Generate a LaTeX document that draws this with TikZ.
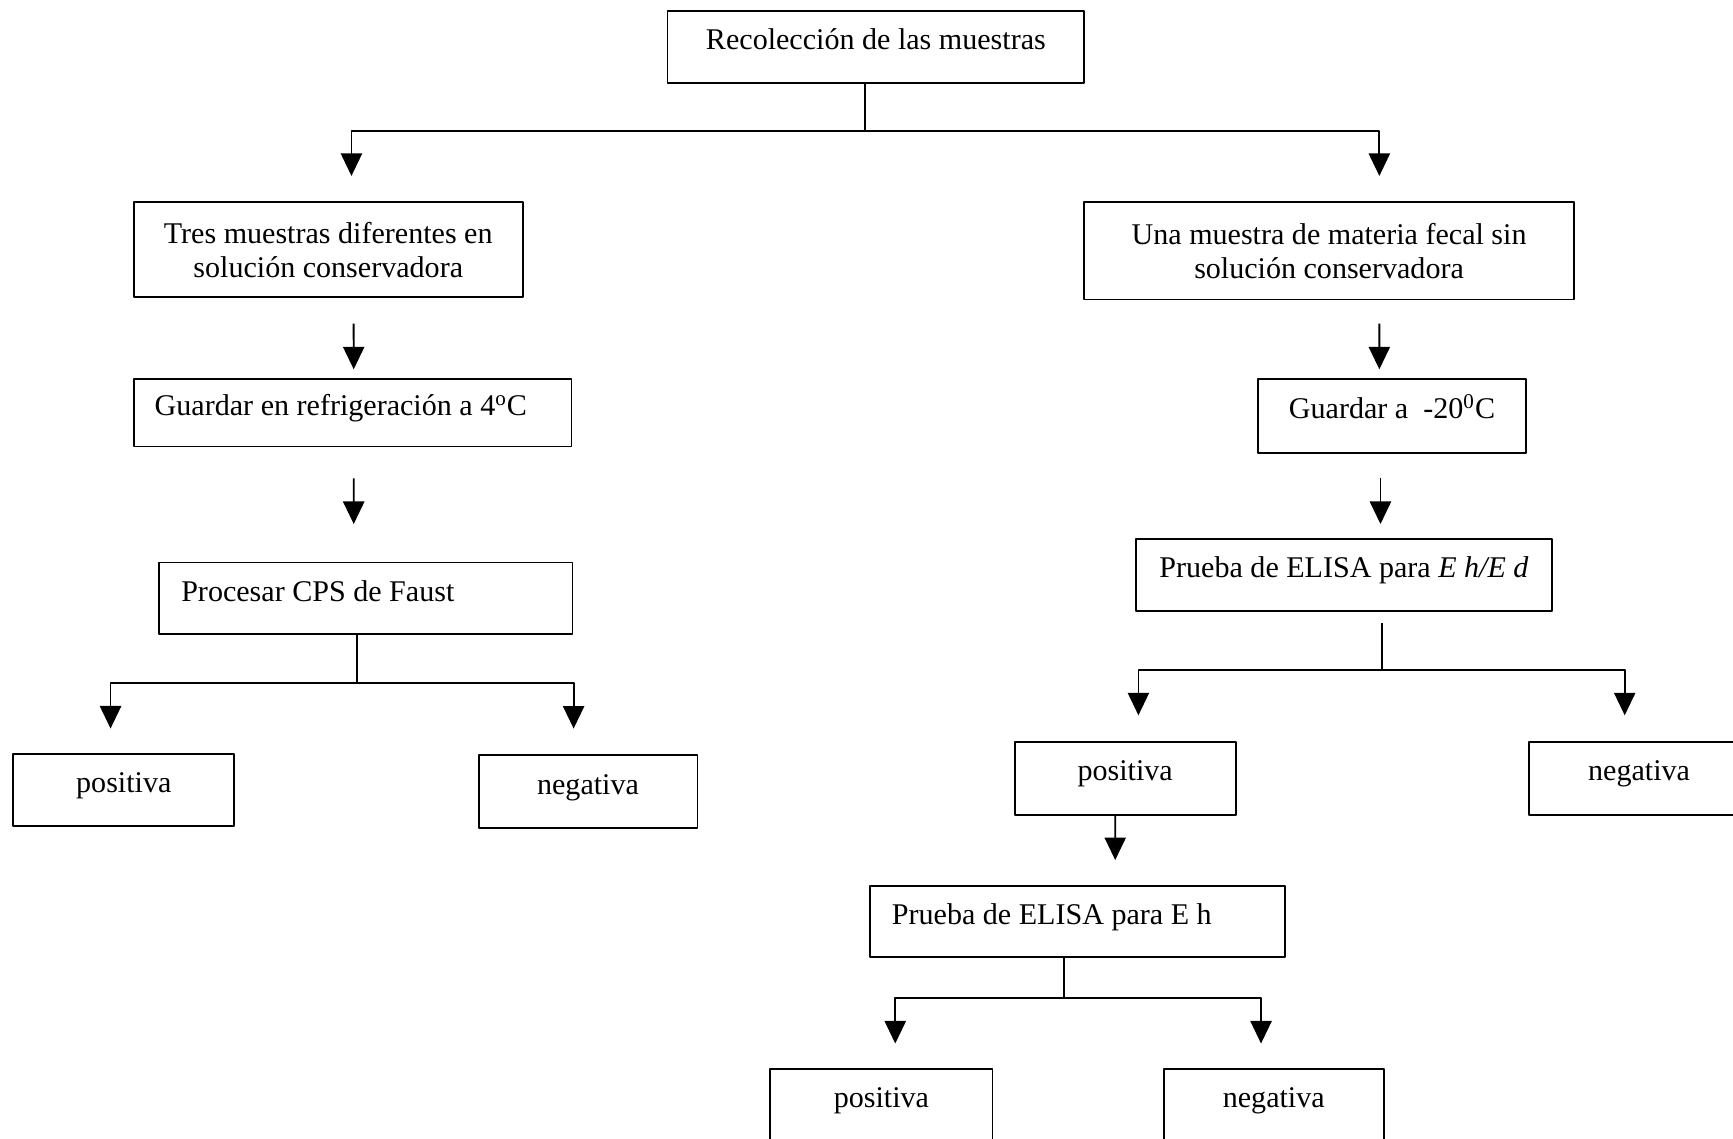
\documentclass[tikz,border=0pt]{standalone}
\usepackage{fontspec}
\setmainfont{Liberation Serif}
\usetikzlibrary{arrows.meta}
\begin{document}
\begin{tikzpicture}[line width=.8pt, line join=round, >={Triangle[length=3.4mm,width=3.2mm]},
  font=\fontsize{12.9}{14.6}\selectfont,
  caja/.style={draw, inner sep=0pt, align=center, text height=1.5ex, text depth=1ex},
  doble/.style={draw, inner sep=0pt, align=center}]
\useasboundingbox (0,0) rectangle (26.133,17.167);
\clip (0,0) rectangle (26.133,17.167);
% cajas
\node[caja, minimum width=6.283cm, minimum height=1.083cm] (raiz) at (13.208,16.458) {Recolección de las muestras};
\node[doble, minimum width=5.867cm, minimum height=1.433cm] (tres) at (4.95,13.4) {Tres muestras diferentes en\\solución conservadora};
\node[doble, minimum width=7.383cm, minimum height=1.467cm] (una) at (20.042,13.383) {Una muestra de materia fecal sin\\solución conservadora};
\node[caja, align=flush left, inner xsep=.317cm, text width=5.967cm, minimum height=1.017cm] (refri) at (5.317,10.942) {Guardar en refrigeración a 4\textsuperscript{o}C};
\node[caja, align=flush left, inner xsep=.333cm, text width=5.567cm, minimum height=1.083cm] (faust) at (5.517,8.142) {Procesar CPS de Faust};
\node[caja, minimum width=3.333cm, minimum height=1.083cm] (pos1) at (1.867,5.258) {positiva};
\node[caja, minimum width=3.3cm, minimum height=1.1cm] (neg1) at (8.867,5.233) {negativa};
\node[caja, minimum width=4.05cm, minimum height=1.117cm] (menos20) at (20.992,10.892) {Guardar a\ \ -20\textsuperscript{0}C};
\node[caja, minimum width=6.267cm, minimum height=1.083cm] (elisa1) at (20.267,8.492) {Prueba de ELISA para \textit{E h/E d}};
\node[caja, minimum width=3.333cm, minimum height=1.1cm] (pos2) at (16.967,5.433) {positiva};
\node[caja, minimum width=3.333cm, minimum height=1.1cm] (neg2) at (24.717,5.433) {negativa};
\node[caja, align=flush left, inner xsep=.333cm, text width=5.6cm, minimum height=1.067cm] (elisa2) at (16.25,3.267) {Prueba de ELISA para E h};
\node[caja, minimum width=3.35cm, minimum height=1.1cm] (pos3) at (13.292,.5) {positiva};
\node[caja, minimum width=3.317cm, minimum height=1.1cm] (neg3) at (19.208,.5) {negativa};
% ramas principales
\draw ([xshift=-1.7mm]raiz.south) -- ++(0,-.717) coordinate (r0);
\draw[->] (r0) -| ([shift={(.35,.383)}]tres.north);
\draw[->] (r0) -| ([shift={(.758,.383)}]una.north);
% columna izquierda
\draw[->] ([shift={(.383,-.383)}]tres.south) -- ([shift={(.017,.133)}]refri.north);
\draw[->] ([shift={(.017,-.467)}]refri.south) -- ([shift={(-.183,.567)}]faust.north);
\draw ([xshift=-1.3mm]faust.south) -- ++(0,-.717) coordinate (f0);
\foreach \n/\dx/\dy in {pos1/-.2/.367, neg1/-.217/.383}
  \draw[->] (f0) -| ([shift={(\dx,\dy)}]\n.north);
% columna derecha
\draw[->] ([shift={(.758,-.35)}]una.south) -- ([shift={(-.192,.133)}]menos20.north);
\draw[->] ([shift={(-.175,-.367)}]menos20.south) -- ([shift={(.55,.217)}]elisa1.north);
\draw ([shift={(.567,-.167)}]elisa1.south) -- ++(0,-.7) coordinate (e0);
\foreach \n/\dx in {pos2/.2, neg2/-.217}
  \draw[->] (e0) -| ([shift={(\dx,.383)}]\n.north);
\draw[->] ([xshift=-1.5mm]pos2.south) -- ([shift={(.567,.383)}]elisa2.north);
\draw ([xshift=-2mm]elisa2.south) -- ++(0,-.6) coordinate (h0);
\foreach \n/\dx in {pos3/.208, neg3/-.192}
  \draw[->] (h0) -| ([shift={(\dx,.367)}]\n.north);
\end{tikzpicture}
\end{document}
